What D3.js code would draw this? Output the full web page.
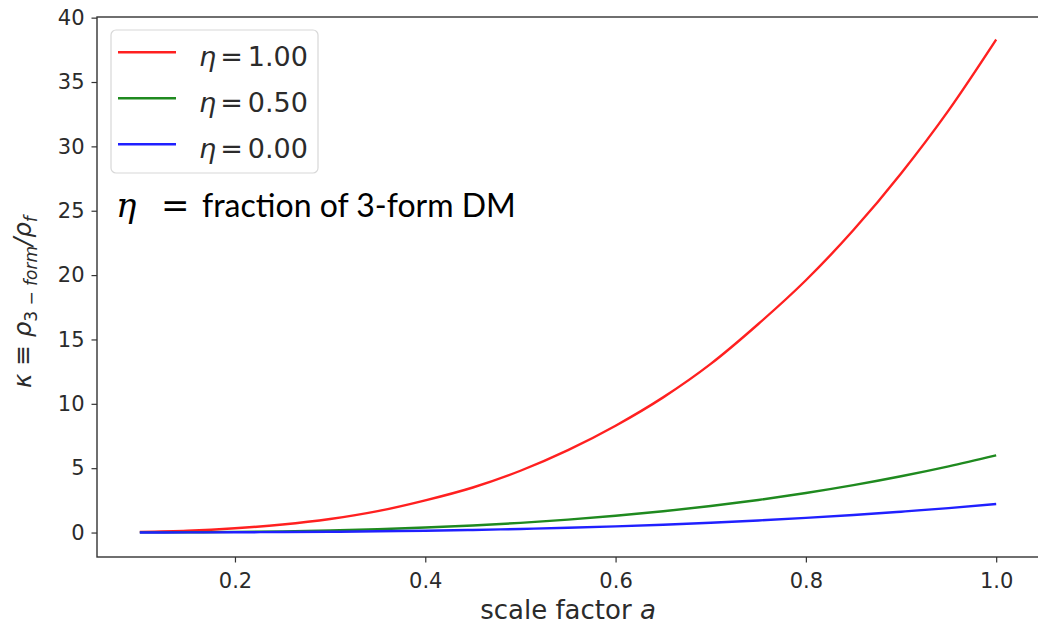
<!DOCTYPE html>
<html>
<head>
<meta charset="utf-8">
<script src="https://cdn.jsdelivr.net/npm/d3@7"></script>
<style>
  body { margin: 0; background: #fff; }
  svg { font-family: "DejaVu Sans", sans-serif; }
  .tick text { fill: #2b2b2b; }
</style>
</head>
<body>
<div id="chart"></div>
<script>
// scale factor a
var scaleFactor = [0.10, 0.15, 0.20, 0.25, 0.30, 0.35, 0.40, 0.45, 0.50, 0.55,
                   0.60, 0.65, 0.70, 0.75, 0.80, 0.85, 0.90, 0.95, 1.00];
// kappa for each eta
var kappaEta100 = [0.05, 0.14, 0.33, 0.62, 1.05, 1.66, 2.5, 3.5, 4.8, 6.4,
                   8.3, 10.5, 13.1, 16.2, 19.6, 23.5, 27.9, 32.8, 38.3];
var kappaEta050 = [0.01, 0.02, 0.05, 0.09, 0.16, 0.26, 0.39, 0.55, 0.75, 1.0,
                   1.3, 1.65, 2.06, 2.53, 3.07, 3.68, 4.37, 5.14, 6.0];
var kappaEta000 = [0.0, 0.01, 0.02, 0.04, 0.06, 0.10, 0.14, 0.20, 0.28, 0.37,
                   0.48, 0.61, 0.76, 0.94, 1.14, 1.36, 1.62, 1.90, 2.22];
var etaLabels = ["1.00", "0.50", "0.00"];
var seriesColors = ["#ff2020", "#1f8a1f", "#2020ff"];
var xTicks = [0.2, 0.4, 0.6, 0.8, 1.0];
var yTicks = [0, 5, 10, 15, 20, 25, 30, 35, 40];

var w = 1038, h = 635;
var margin = {top: 17, left: 97, bottom: 78, right: -1};
var iw = w - margin.left - margin.right,
    ih = h - margin.top - margin.bottom;

var svg = d3.select("#chart").append("svg")
    .attr("width", w)
    .attr("height", h);

var g = svg.append("g")
    .attr("transform", "translate(" + margin.left + "," + margin.top + ")");

var x = d3.scaleLinear().domain([0.055, 1.045]).range([0, iw]);
var y = d3.scaleLinear().domain([-1.9, 40.05]).range([ih, 0]);

var series = [kappaEta100, kappaEta050, kappaEta000].map(function(vals, i) {
  return { eta: etaLabels[i], color: seriesColors[i],
           values: scaleFactor.map(function(a, j) { return {a: a, k: vals[j]}; }) };
});

var line = d3.line()
    .x(function(d) { return x(d.a); })
    .y(function(d) { return y(d.k); })
    .curve(d3.curveMonotoneX);

g.selectAll(".series")
    .data(series)
  .enter().append("path")
    .attr("class", "series")
    .attr("fill", "none")
    .attr("stroke", function(d) { return d.color; })
    .attr("stroke-width", 2.4)
    .attr("d", function(d) { return line(d.values); });

// axes
var xAxis = g.append("g")
    .attr("transform", "translate(0," + ih + ")")
    .call(d3.axisBottom(x).tickValues(xTicks).tickFormat(d3.format(".1f")).tickSize(5.5).tickPadding(11));
var yAxis = g.append("g")
    .call(d3.axisLeft(y).tickValues(yTicks).tickSize(5.5).tickPadding(7));

[xAxis, yAxis].forEach(function(ax) {
  ax.selectAll("text").style("font-size", "21px").style("font-family", "DejaVu Sans");
  ax.selectAll("line").attr("stroke", "#333").attr("stroke-width", 1.2);
  ax.select(".domain").remove();
});

// frame
g.append("rect")
    .attr("width", iw)
    .attr("height", ih)
    .attr("fill", "none")
    .attr("stroke", "#333")
    .attr("stroke-width", 1.4);

// axis labels
svg.append("text")
    .attr("x", margin.left + iw / 2)
    .attr("y", 619)
    .attr("text-anchor", "middle")
    .attr("fill", "#2b2b2b")
    .style("font-size", "26px")
    .html('scale factor <tspan font-style="italic">a</tspan>');

var yl = svg.append("text")
    .attr("transform", "translate(31,302) rotate(-90)")
    .attr("text-anchor", "middle")
    .attr("fill", "#2b2b2b")
    .style("font-size", "24.5px");
yl.append("tspan").attr("font-style", "italic").text("κ");
yl.append("tspan").text(" ≡ ");
yl.append("tspan").attr("font-style", "italic").text("ρ");
yl.append("tspan").attr("font-size", "17px").attr("dy", 6).text("3");
yl.append("tspan").attr("font-size", "17px").text(" − ");
yl.append("tspan").attr("font-size", "17px").attr("font-style", "italic").text("form");
yl.append("tspan").attr("dy", -6).attr("font-style", "italic").text("/ρ");
yl.append("tspan").attr("font-size", "17px").attr("dy", 6).attr("font-style", "italic").text("f");

// legend
var legend = svg.append("g").attr("transform", "translate(111,30)");
legend.append("rect")
    .attr("width", 207)
    .attr("height", 143)
    .attr("rx", 5)
    .attr("fill", "#fff")
    .attr("fill-opacity", 0.8)
    .attr("stroke", "#d8d8d8")
    .attr("stroke-width", 1.2);

var items = legend.selectAll(".item")
    .data(series)
  .enter().append("g")
    .attr("class", "item")
    .attr("transform", function(d, i) { return "translate(0," + (22.3 + i * 46) + ")"; });
items.append("line")
    .attr("x1", 7).attr("x2", 65)
    .attr("stroke", function(d) { return d.color; })
    .attr("stroke-width", 2.6);
items.append("text")
    .attr("x", 88)
    .attr("y", 13.5)
    .attr("fill", "#2b2b2b")
    .style("font-size", "27px")
    .each(function(d) {
      var t = d3.select(this);
      t.append("tspan").attr("font-style", "italic").text("η");
      t.append("tspan").attr("dx", 4).text("=");
      t.append("tspan").attr("dx", 5).text(d.eta);
    });

// annotation
svg.append("text")
    .attr("x", 116)
    .attr("y", 217)
    .attr("fill", "#000")
    .attr("font-family", "DejaVu Serif")
    .attr("font-style", "italic")
    .style("font-size", "34px")
    .text("η");
svg.append("text")
    .attr("x", 161)
    .attr("y", 217)
    .attr("fill", "#000")
    .attr("font-family", "DejaVu Serif")
    .style("font-size", "34px")
    .text("=");
svg.append("text")
    .attr("x", 202)
    .attr("y", 217)
    .attr("fill", "#000")
    .attr("font-family", "Lato")
    .style("font-size", "32px")
    .text("fraction of 3-form DM");
</script>
</body>
</html>
